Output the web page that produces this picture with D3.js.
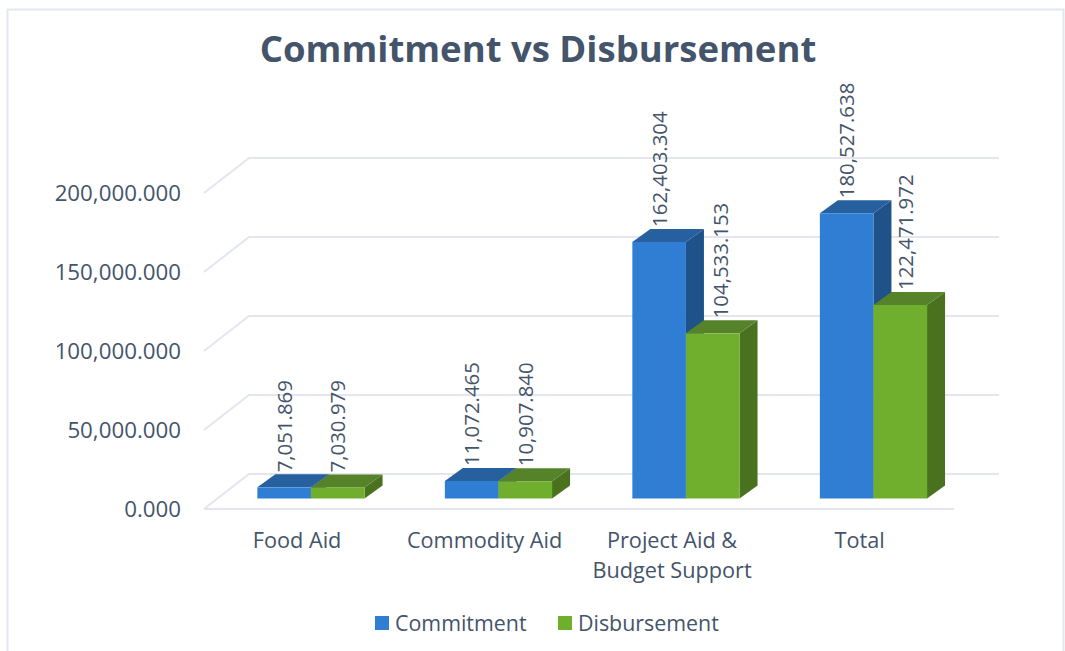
<!DOCTYPE html>
<html><head><meta charset="utf-8">
<script src="https://cdn.jsdelivr.net/npm/d3@7/dist/d3.min.js"></script>
<style>html,body{margin:0;padding:0;background:#fff;overflow:hidden}svg{display:block}text{font-family:"Open Sans",sans-serif}</style>
</head><body>
<script>
const categories = ["Food Aid", "Commodity Aid", "Project Aid &\nBudget Support", "Total"];
const seriesNames = ["Commitment", "Disbursement"];
const commitment = [7051.869, 11072.465, 162403.304, 180527.638];
const disbursement = [7030.979, 10907.840, 104533.153, 122471.972];
const yTicks = [0, 50000, 100000, 150000, 200000];
const title = "Commitment vs Disbursement";

const W = 1065, H = 651;
const textCol = "#44546a", gridCol = "#e3e6ee";
const faces = [
  {front: "#2f7ed4", top: "#26609f", side: "#1f5288"},
  {front: "#70ae2e", top: "#56832a", side: "#4a721e"}
];
const fmt = d3.format(",.3f");
const svg = d3.select("body").append("svg").attr("width", W).attr("height", H);

// frame
svg.append("path").attr("d", `M7.5 ${H}V9.5H1063.5V${H}`).attr("fill", "none").attr("stroke", "#e2e7ef").attr("stroke-width", 2);

const y = d3.scaleLinear().domain([0, 200000]).range([509, 193]);
const x = d3.scaleBand().domain(categories).range([204, 954]);
const depthX = 45, depthY = -35;
const barInsetX = 13.2, barInsetY = -10.5, barDX = 18, barDY = -13, barW = 53.6;

// floor + walls
const grid = svg.append("g").attr("fill", "none").attr("stroke", gridCol).attr("stroke-width", 2);
yTicks.forEach(t => {
  const yy = y(t);
  grid.append("path").attr("d", `M${x.range()[0]} ${yy}L${x.range()[0] + depthX} ${yy + depthY}H${x.range()[1] + depthX}`);
});
grid.append("path").attr("d", `M${x.range()[0]} ${y(0)}H${x.range()[1]}`);

// axis labels via d3 axes
const yAxis = d3.axisLeft(y).tickValues(yTicks).tickSize(0).tickPadding(0).tickFormat(fmt);
const gy = svg.append("g").attr("transform", "translate(181,0.3)").call(yAxis);
gy.select(".domain").remove();
gy.selectAll("text").attr("fill", textCol).style("font-size", "22.3px").style("font-family", '"Open Sans",sans-serif');

const xAxis = d3.axisBottom(x).tickSize(0).tickFormat("");
const gx = svg.append("g").attr("transform", "translate(0,509)").call(xAxis);
gx.select(".domain").remove();
gx.selectAll(".tick").each(function (d) {
  const lines = d.split("\n");
  const t = d3.select(this).append("text").attr("text-anchor", "middle").attr("fill", textCol).style("font-size", "21.7px");
  lines.forEach((l, i) => t.append("tspan").attr("x", -0.7).attr("y", 39 + i * 30).text(l));
});

// bars
const seriesVals = [commitment, disbursement];
const barsG = svg.append("g");
categories.forEach((c, ci) => {
  const center = x(c) + x.bandwidth() / 2 + barInsetX;
  [0, 1].forEach(si => {
    const v = seriesVals[si][ci];
    const x0 = center + (si - 1) * barW, x1 = x0 + barW;
    const yb = y(0) + barInsetY, yt = y(v) + barInsetY;
    const f = faces[si];
    const g = barsG.append("g");
    g.append("path").attr("fill", f.side).attr("d", `M${x1} ${yb}L${x1 + barDX} ${yb + barDY}V${yt + barDY}L${x1} ${yt}Z`);
    g.append("path").attr("fill", f.top).attr("d", `M${x0} ${yt}L${x0 + barDX} ${yt + barDY}H${x1 + barDX}L${x1} ${yt}Z`);
    g.append("rect").attr("fill", f.front).attr("x", x0).attr("y", yt).attr("width", barW).attr("height", yb - yt);
  });
});
// data labels on top of every bar; two tall green labels sit slightly right of their bars
const labelsG = svg.append("g");
categories.forEach((c, ci) => {
  const center = x(c) + x.bandwidth() / 2 + barInsetX;
  [0, 1].forEach(si => {
    const v = seriesVals[si][ci];
    const nudge = si === 1 ? (ci === 2 ? 8 : ci === 3 ? 5 : 0) : 0;
    const xc = center + (si - 1) * barW + barW / 2 + nudge;
    const yt = y(v) + barInsetY + barDY - 2;
    labelsG.append("text").attr("transform", `translate(${xc},${yt}) rotate(-90)`)
      .attr("dy", "0.36em").attr("fill", textCol).style("font-size", "20.4px").text(fmt(v));
  });
});

// title
svg.append("text").attr("x", 538).attr("y", 62).attr("text-anchor", "middle")
  .attr("fill", "#44546a").style("font-size", "36.5px").style("font-weight", 700).text(title);

// legend
const legendX = [375, 558];
seriesNames.forEach((s, i) => {
  svg.append("rect").attr("x", legendX[i]).attr("y", 616).attr("width", 14).attr("height", 14).attr("fill", faces[i].front);
  svg.append("text").attr("x", legendX[i] + 20).attr("y", 631).attr("fill", textCol).style("font-size", "21.4px").text(s);
});
</script>
</body></html>
